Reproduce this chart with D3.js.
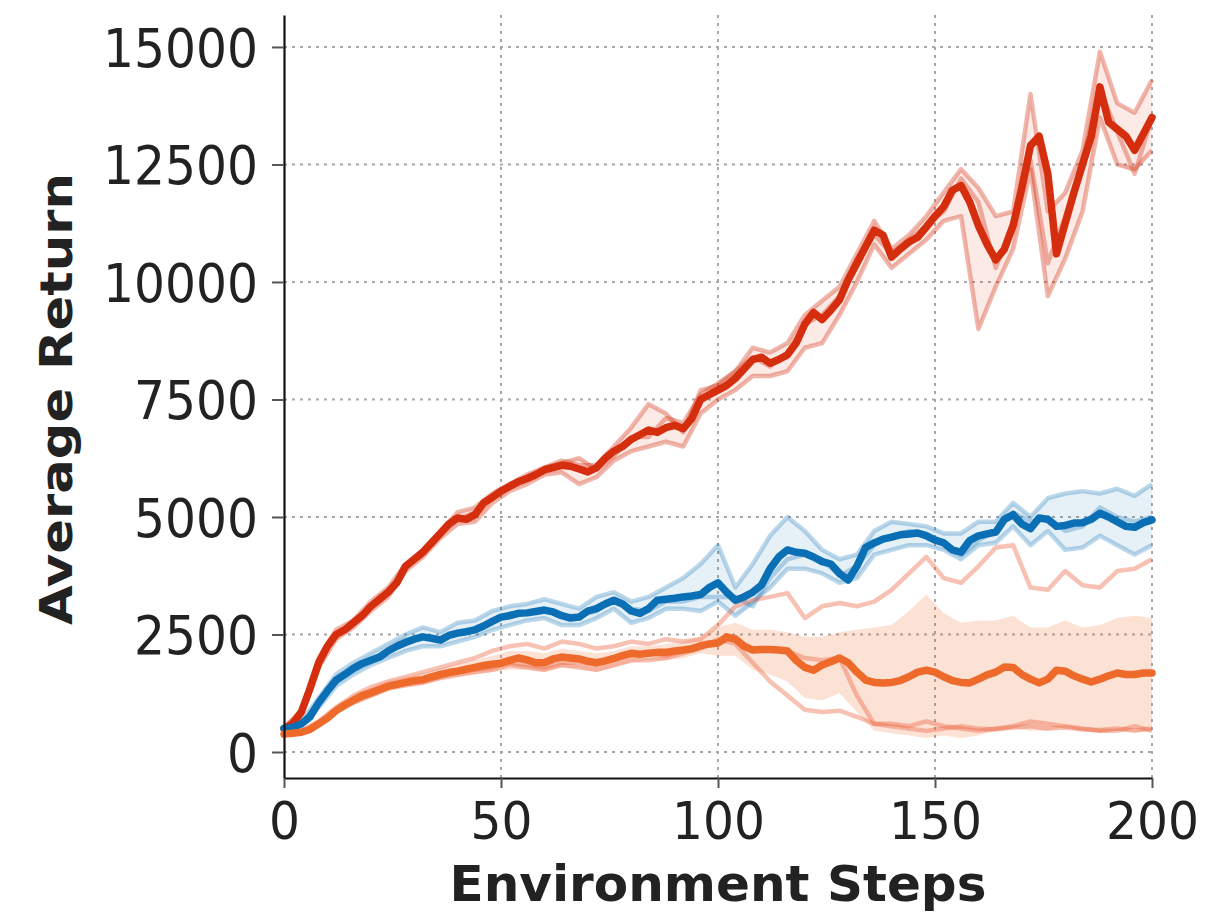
<!DOCTYPE html>
<html>
<head>
<title>Average Return</title>
<meta charset="utf-8" />
<style>
body { margin: 0; background: #fff; }
svg { display: block; }
</style>
</head>
<body>
<div id="chart"></div>
<script src="https://d3js.org/d3.v7.min.js"></script>
<script>
// environment steps for the seed runs (every 4)
var steps = [0,4,8,12,16,20,24,28,32,36,
  40,44,48,52,56,60,64,68,72,76,
  80,84,88,92,96,100,104,108,112,116,
  120,124,128,132,136,140,144,148,152,156,
  160,164,168,172,176,180,184,188,192,196,
  200];
// environment steps for the mean curves (every 2)
var fineSteps = [0,2,4,6,8,10,12,14,16,18,20,22,24,26,28,30,32,34,36,38,
  40,42,44,46,48,50,52,54,56,58,60,62,64,66,68,70,72,74,76,78,
  80,82,84,86,88,90,92,94,96,98,100,102,104,106,108,110,112,114,116,118,
  120,122,124,126,128,130,132,134,136,138,140,142,144,146,148,150,152,154,156,158,
  160,162,164,166,168,170,172,174,176,178,180,182,184,186,188,190,192,194,196,198,
  200];

var xTicks = [0, 50, 100, 150, 200];
var yTicks = [0, 2500, 5000, 7500, 10000, 12500, 15000];

// red run
var redMean = [500,600,850,1350,1900,2250,2500,2600,2750,2900,
  3100,3250,3400,3600,3950,4100,4250,4450,4650,4850,
  4980,4950,5050,5300,5420,5550,5650,5750,5820,5900,
  6000,6050,6100,6080,6020,5960,6050,6250,6400,6500,
  6650,6750,6850,6800,6900,6950,6880,7100,7500,7600,
  7700,7800,7950,8150,8350,8400,8270,8350,8450,8700,
  9100,9350,9200,9400,9620,10050,10400,10750,11100,11000,
  10530,10700,10850,10950,11170,11400,11600,11950,12050,11700,
  11200,10800,10470,10700,11200,12000,12900,13100,12300,10600,
  11250,11900,12500,13100,14150,13400,13250,13100,12800,13150,
  13500];
var redSeed1 = [500,900,2000,2600,2800,3200,3500,4000,4300,4700,
  5100,5200,5500,5700,5900,6050,6200,6100,6100,6500,
  6900,7400,7200,6800,7700,7800,8100,8600,8500,8700,
  9300,9600,9900,10600,11300,10700,11000,11400,11900,12400,
  12000,11400,11500,14000,11500,11900,12800,14900,13800,13600,
  14300];
var redSeed2 = [480,800,1800,2400,2650,3000,3300,3850,4150,4550,
  4850,4900,5300,5550,5700,5900,5950,5700,5850,6200,
  6400,6500,6600,6500,7200,7500,7700,8000,8000,8100,
  8600,8700,9300,10000,10800,10300,10600,10900,11300,11400,
  9000,9900,10700,12400,9700,10500,11500,13500,12500,12400,
  12800];
var redSeed3 = [520,850,1950,2450,2800,3100,3450,3900,4300,4650,
  4950,5100,5400,5700,5850,6050,6150,6250,6000,6300,
  6700,6700,7100,7000,7600,7850,8100,8400,8200,8500,
  9100,9300,9700,10500,11000,10600,10900,11200,11500,12200,
  11700,10300,11300,12600,10400,11400,12600,14100,13200,12300,
  13500];

// blue run
var blueMean = [500,520,600,750,1050,1300,1530,1650,1780,1880,
  1950,2020,2150,2250,2330,2400,2450,2420,2380,2480,
  2530,2560,2600,2680,2780,2870,2900,2950,2960,2990,
  3020,2980,2900,2850,2870,3000,3050,3150,3230,3150,
  3000,2950,3050,3230,3250,3270,3300,3320,3350,3500,
  3600,3400,3230,3300,3400,3550,3900,4150,4300,4250,
  4230,4150,4050,4000,3800,3660,3950,4350,4450,4530,
  4570,4620,4640,4660,4600,4510,4450,4300,4250,4500,
  4600,4640,4680,4950,5050,4850,4750,4980,4950,4800,
  4820,4870,4880,4950,5080,5000,4900,4800,4780,4880,
  4940];
var blueSeed1 = [520,650,1150,1650,1900,2100,2300,2500,2650,2550,
  2750,2800,3000,3100,3150,3250,3150,3050,3300,3400,
  3200,3300,3500,3700,4000,4400,3500,4000,4600,5000,
  4700,4300,4100,4200,4700,4900,4850,4800,4650,4650,
  4900,4900,5300,5000,5400,5500,5550,5500,5600,5450,
  5700];
var blueSeed2 = [480,560,950,1400,1650,1850,2000,2150,2250,2250,
  2350,2450,2600,2700,2800,2850,2700,2700,2850,3050,
  2750,2850,3050,3050,3000,3200,2900,3200,3500,3900,
  3900,3800,3600,3700,4200,4300,4400,4400,4300,4100,
  4400,4450,4800,4400,4700,4300,4350,4600,4400,4200,
  4400];
var blueSeed3 = [500,600,1080,1550,1800,1950,2180,2400,2450,2400,
  2550,2600,2800,2950,2950,3000,2900,2900,3000,3250,
  3050,3000,3200,3200,3300,3300,3300,3100,3700,4100,
  4200,4100,3750,3950,4400,4600,4700,4650,4450,4200,
  4500,4700,5100,4900,5000,4700,4800,5200,5000,4900,
  5000];

// orange run
var orangeMean = [380,400,420,480,600,720,880,1000,1100,1200,
  1260,1330,1400,1440,1480,1520,1540,1600,1650,1690,
  1720,1760,1800,1840,1870,1890,1950,2000,1960,1900,
  1900,1980,2020,2000,1980,1930,1900,1940,1990,2050,
  2100,2080,2100,2120,2120,2150,2170,2200,2260,2300,
  2320,2450,2400,2250,2170,2180,2180,2170,2150,1950,
  1800,1740,1850,1920,2000,1900,1700,1530,1480,1470,
  1480,1520,1600,1700,1740,1700,1600,1520,1480,1470,
  1550,1640,1700,1810,1800,1650,1550,1470,1550,1740,
  1720,1620,1550,1490,1550,1620,1680,1650,1650,1680,
  1680];
var orangeSeed1 = [400,450,650,950,1200,1380,1500,1600,1700,1800,
  1900,2000,2150,2250,2300,2200,2350,2300,2200,2250,
  2350,2300,2400,2350,2400,2700,3100,3230,3300,3380,
  2850,3100,3170,3100,3200,3450,3800,4150,3700,3600,
  3950,4350,4400,3500,3450,3850,3550,3500,3850,3900,
  4100];
var orangeSeed2 = [370,400,580,850,1050,1200,1350,1420,1480,1580,
  1650,1700,1750,1850,1800,1750,1850,1800,1750,1850,
  1950,1950,2000,2100,2200,2400,2300,1900,1500,1200,
  900,850,880,750,600,550,500,450,500,550,
  500,480,520,550,500,520,480,470,500,460,
  500];
var orangeSeed3 = [380,420,600,870,1080,1220,1380,1450,1500,1600,
  1700,1750,1800,1900,1850,1800,1900,1900,1850,1950,
  2050,2100,2050,2150,2250,2300,2450,2150,2200,2150,
  2000,1950,2000,1200,600,600,550,650,550,500,
  450,500,550,650,600,550,500,450,450,550,
  450];
var orangeHigh = [450,500,700,980,1220,1380,1520,1600,1680,1780,
  1870,1950,2050,2150,2150,2100,2200,2150,2100,2150,
  2250,2250,2300,2350,2450,2650,2750,2600,2600,2550,
  2450,2450,2550,2600,2650,2700,3000,3350,2950,2750,
  2800,2800,2900,2650,2650,2800,2650,2700,2850,2900,
  2850];
var orangeLow = [330,360,520,800,1000,1150,1300,1380,1420,1520,
  1580,1650,1700,1750,1750,1700,1800,1780,1700,1800,
  1900,1950,1950,2000,2100,2050,2050,1750,1650,1500,
  1150,1100,1250,850,450,400,350,300,350,300,
  350,450,500,450,450,550,450,400,450,400,
  450];

var width = 1205, height = 913;
var redC = "#d52e0e", blueC = "#0b6fb5", orangeC = "#ee6a2b";

var svg = d3.select("#chart").append("svg")
  .attr("width", width)
  .attr("height", height)
  .style("background", "#fff");

var x = d3.scaleLinear().domain([0, 200]).range([284, 1152]);
var y = d3.scaleLinear().domain([-553, 15680]).range([778, 15]);

// grid
svg.append("g").selectAll("line").data(yTicks).enter().append("line")
  .attr("x1", x(0)).attr("x2", x(200))
  .attr("y1", function(d){ return y(d); })
  .attr("y2", function(d){ return y(d); })
  .attr("stroke", "#a8a8a8").attr("stroke-width", 2)
  .attr("stroke-dasharray", "3,5");
svg.append("g").selectAll("line").data(xTicks.slice(1)).enter().append("line")
  .attr("x1", function(d){ return x(d); })
  .attr("x2", function(d){ return x(d); })
  .attr("y1", y.range()[1]).attr("y2", y.range()[0])
  .attr("stroke", "#a8a8a8").attr("stroke-width", 2)
  .attr("stroke-dasharray", "3,5");

var line = d3.line()
  .x(function(d, i){ return x(steps[i]); })
  .y(function(d){ return y(d); });
var fineLine = d3.line()
  .x(function(d, i){ return x(fineSteps[i]); })
  .y(function(d){ return y(d); });

var area = d3.area()
  .x(function(d, i){ return x(steps[i]); })
  .y0(function(d){ return y(d[0]); })
  .y1(function(d){ return y(d[1]); });

function seedBand(seeds) {
  return steps.map(function(s, i){
    var v = seeds.map(function(a){ return a[i]; });
    return [d3.min(v), d3.max(v)];
  });
}

var runs = [
  {color: redC, seedColor: redC, seedOp: 0.35, mean: redMean,
    seeds: [redSeed1, redSeed2, redSeed3],
    band: seedBand([redSeed1, redSeed2, redSeed3]), bandOp: 0.1},
  {color: blueC, seedColor: blueC, seedOp: 0.28, mean: blueMean,
    seeds: [blueSeed1, blueSeed2, blueSeed3],
    band: seedBand([blueSeed1, blueSeed2, blueSeed3]), bandOp: 0.1},
  {color: orangeC, seedColor: "#ea6440", seedOp: 0.4, mean: orangeMean,
    seeds: [orangeSeed1, orangeSeed2, orangeSeed3],
    band: orangeLow.map(function(d, i){ return [d, orangeHigh[i]]; }), bandOp: 0.2}
];

var plot = svg.append("g");

runs.forEach(function(r){
  plot.append("path").attr("d", area(r.band))
    .attr("fill", r.color).attr("fill-opacity", r.bandOp);
});
runs.forEach(function(r){
  r.seeds.forEach(function(s){
    plot.append("path").attr("d", line(s))
      .attr("fill", "none").attr("stroke", r.seedColor)
      .attr("stroke-opacity", r.seedOp).attr("stroke-width", 4.5)
      .attr("stroke-linejoin", "round");
  });
});
runs.forEach(function(r){
  plot.append("path").attr("d", fineLine(r.mean))
    .attr("fill", "none").attr("stroke", r.color)
    .attr("stroke-width", 7.5).attr("stroke-linejoin", "round")
    .attr("stroke-linecap", "round");
});

// axes
var yAxis = svg.append("g").attr("transform", "translate(" + x(0) + ",0)")
  .call(d3.axisLeft(y).tickValues(yTicks).tickFormat(d3.format("d"))
    .tickSize(12).tickSizeOuter(0).tickPadding(14));
var xAxis = svg.append("g").attr("transform", "translate(0," + y.range()[0] + ")")
  .call(d3.axisBottom(x).tickValues(xTicks).tickFormat(d3.format("d"))
    .tickSize(10).tickSizeOuter(0).tickPadding(15));

[yAxis, xAxis].forEach(function(a){
  a.select(".domain").attr("stroke", "#111").attr("stroke-width", 2.2);
  a.selectAll(".tick line").attr("stroke", "#555").attr("stroke-width", 2);
  a.selectAll(".tick text")
    .attr("fill", "#222")
    .style("font-family", "'DejaVu Sans', sans-serif")
    .style("font-size", "53px")
    .attr("textLength", function(d){ return String(d).length * 31; })
    .attr("lengthAdjust", "spacingAndGlyphs");
});
yAxis.selectAll(".tick text").attr("dy", "0.36em");
// keep the last x label inside the frame
xAxis.selectAll(".tick text").style("font-size", "51px");

// axis titles
svg.append("text")
  .attr("x", 718).attr("y", 901)
  .attr("text-anchor", "middle")
  .attr("textLength", 537).attr("lengthAdjust", "spacingAndGlyphs")
  .style("font-family", "'DejaVu Sans', sans-serif")
  .style("font-weight", "bold").style("font-size", "50px")
  .attr("fill", "#222")
  .text("Environment Steps");

svg.append("text")
  .attr("transform", "translate(72,399) rotate(-90)")
  .attr("text-anchor", "middle")
  .attr("textLength", 452).attr("lengthAdjust", "spacingAndGlyphs")
  .style("font-family", "'DejaVu Sans', sans-serif")
  .style("font-weight", "bold").style("font-size", "44px")
  .attr("fill", "#222")
  .text("Average Return");
</script>
</body>
</html>
